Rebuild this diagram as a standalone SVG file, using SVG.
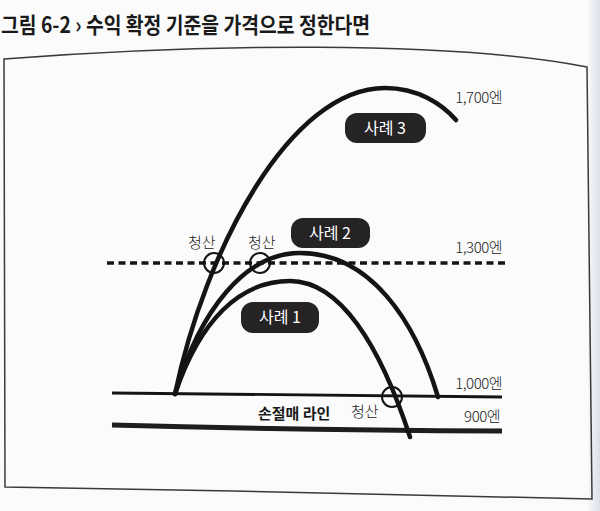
<svg xmlns="http://www.w3.org/2000/svg" width="600" height="511" viewBox="0 0 600 511">
<defs>
<style>
.curve{fill:none;stroke:#141414;stroke-width:4.5;stroke-linecap:round}
.circ{fill:none;stroke:#141414;stroke-width:2}
.box{fill:#262324}
.boxt{fill:#fff;font-family:"Noto Sans CJK KR","Noto Sans",sans-serif;font-size:16px;text-anchor:middle}
.lbl{fill:#222;font-family:"Noto Sans CJK KR","Noto Sans",sans-serif;font-size:15px;font-weight:300}
.val{fill:#222;font-family:"Noto Sans CJK KR","Noto Sans",sans-serif;font-size:15px;font-weight:300;text-anchor:end;letter-spacing:-0.5px}
</style>
<linearGradient id="edge" x1="0" x2="1" y1="0" y2="0">
<stop offset="0" stop-color="#f7f8f9"/>
<stop offset="1" stop-color="#d9e0e8"/>
</linearGradient>
</defs>
<rect width="600" height="511" fill="#fbfbfb"/>
<rect x="588" y="0" width="12" height="511" fill="url(#edge)"/>
<g id="title">
<text x="1" y="33" font-family="'Noto Sans CJK KR','Noto Sans',sans-serif" font-size="22" font-weight="700" fill="#1a1a1a" textLength="369" lengthAdjust="spacingAndGlyphs">그림 6-2 › 수익 확정 기준을 가격으로 정한다면</text>
</g>
<g id="frame">
<path d="M4,59 C 200,44 450,40 587,67 L 592,499 C 400,494 200,490 5,487 Z" fill="none" stroke="#3a3a3a" stroke-width="1.5"/>
</g>
<g id="connectors">
<line id="line-1000" x1="112" y1="393" x2="502" y2="397" stroke="#141414" stroke-width="2.8"/>
<path id="line-900" d="M112,425 Q 300,430 502,431" fill="none" stroke="#1e1e1e" stroke-width="5"/>
<line id="line-1300" x1="107" y1="263" x2="505" y2="263" stroke="#141414" stroke-width="3.5" stroke-dasharray="7 4.5"/>
<path id="case3" class="curve" d="M175,394 C 205,250 290,88 385,88 C 418,88 442,104 456,120"/>
<path id="case2" class="curve" d="M175,394 C 200,310 245,253 300,253 C 370,253 415,320 438,397"/>
<path id="case1" class="curve" d="M175,394 C 200,320 240,281 290,281 C 340,281 380,345 410,437"/>
</g>
<g id="exit-marks">
<circle class="circ" cx="214" cy="263" r="10"/>
<circle class="circ" cx="260" cy="263" r="10"/>
<circle class="circ" cx="392" cy="397" r="10"/>
<text class="lbl" x="188" y="248">청산</text>
<text class="lbl" x="248" y="248">청산</text>
<text class="lbl" x="351" y="417">청산</text>
</g>
<g id="case3-label">
<rect class="box" x="345" y="113" width="81" height="30" rx="12"/>
<text class="boxt" x="385" y="134">사례 3</text>
</g>
<g id="case2-label">
<rect class="box" x="291" y="218" width="79" height="30" rx="12"/>
<text class="boxt" x="330" y="239">사례 2</text>
</g>
<g id="case1-label">
<rect class="box" x="241" y="302" width="78" height="31" rx="12"/>
<text class="boxt" x="280" y="323">사례 1</text>
</g>
<g id="price-labels">
<text class="val" x="502" y="103">1,700엔</text>
<text class="val" x="502" y="253">1,300엔</text>
<text class="val" x="502" y="389">1,000엔</text>
<text class="val" x="500" y="422">900엔</text>
</g>
<g id="stoploss-label">
<text x="258" y="419" font-family="'Noto Sans CJK KR','Noto Sans',sans-serif" font-size="15" font-weight="700" fill="#1a1a1a">손절매 라인</text>
</g>
</svg>
